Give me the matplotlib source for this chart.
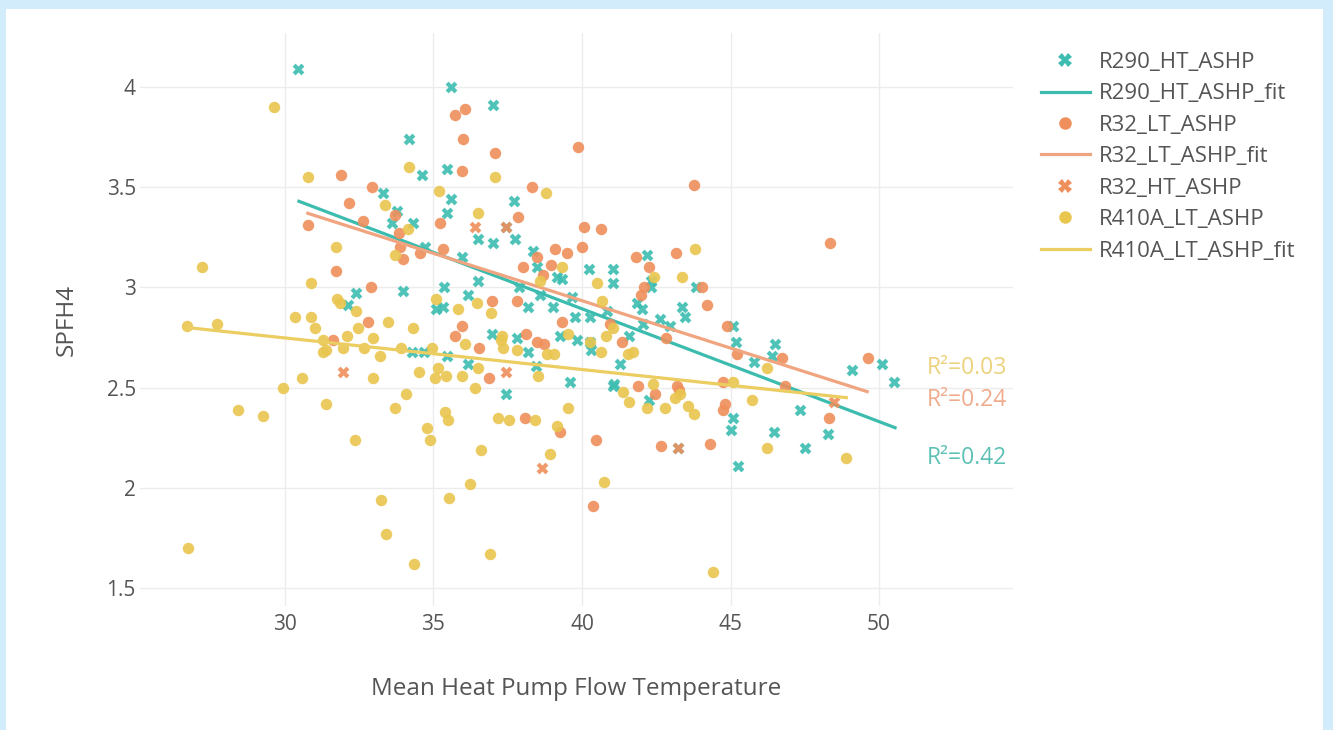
import matplotlib
matplotlib.use("Agg")
import matplotlib.pyplot as plt
from matplotlib.patches import Rectangle
from matplotlib.lines import Line2D

plt.rcParams['font.family'] = ['Open Sans', 'DejaVu Sans']

# (mean flow temperature, SPFH4) per heat pump group
r290_ht_points = [
    (30.44, 4.09), (35.59, 4.00), (37.00, 3.91), (34.18, 3.74), (34.61, 3.56), (35.45, 3.59),
    (35.59, 3.44), (35.45, 3.37), (33.30, 3.47), (33.77, 3.38), (33.60, 3.32), (34.31, 3.32),
    (34.71, 3.20), (35.35, 3.00), (33.97, 2.98), (32.39, 2.97), (32.12, 2.91), (35.08, 2.89),
    (35.32, 2.90), (37.71, 3.43), (36.50, 3.24), (37.00, 3.22), (37.74, 3.24), (35.96, 3.15),
    (38.35, 3.18), (38.48, 3.10), (39.16, 3.05), (39.33, 3.04), (40.24, 3.09), (41.04, 3.09),
    (41.04, 3.02), (42.19, 3.16), (42.32, 3.00), (43.84, 3.00), (36.50, 3.03), (36.16, 2.96),
    (37.88, 3.00), (38.18, 2.90), (38.59, 2.96), (39.02, 2.90), (39.66, 2.95), (41.85, 2.92),
    (43.37, 2.90), (36.97, 2.77), (37.81, 2.75), (38.18, 2.68), (39.26, 2.76), (39.83, 2.74),
    (40.27, 2.73), (40.30, 2.69), (35.45, 2.66), (36.16, 2.62), (38.45, 2.61), (39.76, 2.85),
    (40.27, 2.85), (40.84, 2.88), (39.60, 2.53), (41.04, 2.51), (37.44, 2.47), (42.32, 3.03),
    (42.02, 2.89), (43.47, 2.85), (42.63, 2.84), (42.96, 2.81), (42.05, 2.82), (45.08, 2.81),
    (45.18, 2.73), (45.79, 2.63), (41.58, 2.76), (41.28, 2.62), (41.08, 2.52), (42.26, 2.44),
    (45.08, 2.35), (45.02, 2.29), (43.23, 2.20), (45.25, 2.11), (46.50, 2.72), (46.40, 2.66),
    (49.09, 2.59), (50.10, 2.62), (50.51, 2.53), (47.34, 2.39), (46.46, 2.28), (47.51, 2.20),
    (48.28, 2.27), (34.28, 2.68), (34.68, 2.68), (37.44, 3.30),
]

r32_lt_points = [
    (35.72, 3.86), (36.06, 3.89), (35.99, 3.74), (37.07, 3.67), (35.96, 3.58), (39.87, 3.70),
    (43.77, 3.51), (38.32, 3.50), (37.85, 3.35), (40.07, 3.30), (40.64, 3.29), (35.22, 3.32),
    (35.32, 3.19), (39.09, 3.19), (39.49, 3.17), (40.00, 3.20), (38.48, 3.15), (38.01, 3.10),
    (38.96, 3.11), (38.69, 3.06), (41.82, 3.15), (43.16, 3.17), (42.26, 3.10), (42.09, 3.00),
    (41.99, 2.96), (44.04, 3.00), (44.21, 2.91), (36.97, 2.93), (37.81, 2.93),
    (31.89, 3.56), (32.93, 3.50), (32.16, 3.42), (32.63, 3.33), (30.77, 3.31), (33.84, 3.27),
    (33.87, 3.20), (33.97, 3.14), (34.55, 3.17), (31.72, 3.08), (32.90, 3.00), (33.70, 3.36),
    (35.96, 2.81), (35.72, 2.76), (36.53, 2.70), (36.87, 2.55), (38.11, 2.77), (38.48, 2.73),
    (38.72, 2.72), (39.33, 2.83), (40.94, 2.82), (41.35, 2.73), (42.83, 2.75), (41.89, 2.51),
    (42.46, 2.47), (43.20, 2.51), (43.27, 2.49), (44.75, 2.53), (44.81, 2.42), (44.75, 2.39),
    (44.88, 2.81), (45.22, 2.67), (38.08, 2.35), (39.26, 2.28), (40.47, 2.24), (42.66, 2.21),
    (44.31, 2.22), (40.37, 1.91), (48.35, 3.22), (46.73, 2.65), (46.84, 2.51), (49.63, 2.65),
    (48.32, 2.35), (32.79, 2.83), (31.62, 2.74),
]

r32_ht_points = [
    (36.40, 3.30), (37.44, 3.30), (31.95, 2.58), (37.44, 2.58), (38.65, 2.10), (48.48, 2.43),
    (43.23, 2.20),
]

r410a_lt_points = [
    (29.63, 3.90), (30.77, 3.55), (34.18, 3.60), (35.19, 3.48), (33.37, 3.41), (34.14, 3.29),
    (31.72, 3.20), (33.70, 3.16), (27.21, 3.10), (30.88, 3.02), (31.75, 2.94), (31.85, 2.92),
    (32.39, 2.88), (30.34, 2.85), (30.88, 2.85), (35.08, 2.94), (35.82, 2.89),
    (26.70, 2.81), (27.71, 2.82), (31.01, 2.80), (32.46, 2.80), (33.47, 2.83), (34.31, 2.80),
    (32.09, 2.76), (32.96, 2.75), (31.28, 2.74), (31.28, 2.68), (31.38, 2.69), (31.95, 2.70),
    (32.66, 2.70), (33.20, 2.66), (33.91, 2.70), (34.95, 2.70), (34.51, 2.58), (35.15, 2.60),
    (35.05, 2.55), (35.42, 2.56), (30.57, 2.55), (32.96, 2.55), (29.93, 2.50), (28.42, 2.39),
    (29.26, 2.36), (31.38, 2.42), (33.70, 2.40), (34.07, 2.47), (35.39, 2.38), (35.49, 2.34),
    (34.78, 2.30), (34.88, 2.24), (32.36, 2.24), (33.23, 1.94), (35.52, 1.95), (33.40, 1.77),
    (26.73, 1.70), (34.34, 1.62),
    (36.46, 2.92), (36.94, 2.87), (36.06, 2.72), (37.31, 2.76), (37.27, 2.74), (37.34, 2.70),
    (37.81, 2.69), (38.82, 2.67), (39.06, 2.67), (39.53, 2.77), (40.27, 2.73), (40.64, 2.68),
    (40.81, 2.76), (41.04, 2.80), (41.55, 2.67), (41.72, 2.68), (35.96, 2.56), (36.50, 2.60),
    (38.52, 2.56), (36.40, 2.50), (37.17, 2.35), (37.54, 2.34), (38.42, 2.34), (39.16, 2.31),
    (39.53, 2.40), (36.60, 2.19), (38.92, 2.17), (36.23, 2.02), (40.74, 2.03), (36.90, 1.67),
    (44.41, 1.58), (41.38, 2.48), (41.58, 2.43), (42.19, 2.40), (42.80, 2.40), (42.39, 2.52),
    (43.13, 2.45), (43.30, 2.47), (43.57, 2.41), (43.77, 2.37), (45.08, 2.53),
    (37.07, 3.55), (38.79, 3.47), (36.50, 3.37), (39.33, 3.10), (38.59, 3.03), (40.51, 3.02),
    (40.67, 2.93), (42.43, 3.05), (43.37, 3.05), (43.81, 3.19),
    (45.72, 2.44), (46.23, 2.60), (46.23, 2.20), (48.89, 2.15),
]

# linear fit lines: end points (x) and fitted values (y)
r290_fit_x = [30.47, 50.54]
r290_fit_y = [3.43, 2.30]
r32_fit_x = [30.77, 49.60]
r32_fit_y = [3.37, 2.48]
r410a_fit_x = [26.70, 48.90]
r410a_fit_y = [2.80, 2.45]

r2_labels = ["R²=0.03", "R²=0.24", "R²=0.42"]
r2_y = [2.60, 2.44, 2.15]
r2_x = 51.62

x_ticks = [30, 35, 40, 45, 50]
y_ticks = [1.5, 2, 2.5, 3, 3.5, 4]

TEAL = '#3dbdb1'
ORANGE = '#ef8f5c'
YELLOW = '#e9c64e'
TEAL_FIT = '#3cbcae'
ORANGE_FIT = '#f0a47f'
YELLOW_FIT = '#ebcd62'
TEXT = '#555555'

W, H = 1333, 730
fig = plt.figure(figsize=(W / 100, H / 100), dpi=100)
fig.patch.set_facecolor('#d3ecfb')
fig.patches.append(Rectangle((6 / W, 0), (1323 - 6) / W, 1 - 9 / H,
                             transform=fig.transFigure, facecolor='white',
                             edgecolor='none', zorder=-10))

ax = fig.add_axes([140 / W, 1 - 606 / H, (1013 - 140) / W, (606 - 33) / H])
ax.set_facecolor('white')
ax.set_zorder(1)


def xs(points):
    return [p[0] for p in points]


def ys(points):
    return [p[1] for p in points]


ax.scatter(xs(r290_ht_points), ys(r290_ht_points), marker='X', s=72, color=TEAL,
           alpha=0.9, linewidths=0, zorder=3)
ax.plot(r290_fit_x, r290_fit_y, color=TEAL_FIT, lw=2.3, zorder=4)
ax.scatter(xs(r32_lt_points), ys(r32_lt_points), marker='o', s=68, color=ORANGE,
           alpha=0.9, linewidths=0, zorder=5)
ax.plot(r32_fit_x, r32_fit_y, color=ORANGE_FIT, lw=2.3, zorder=6)
ax.scatter(xs(r32_ht_points), ys(r32_ht_points), marker='X', s=72, color=ORANGE,
           alpha=0.9, linewidths=0, zorder=7)
ax.scatter(xs(r410a_lt_points), ys(r410a_lt_points), marker='o', s=68, color=YELLOW,
           alpha=0.9, linewidths=0, zorder=8)
ax.plot(r410a_fit_x, r410a_fit_y, color=YELLOW_FIT, lw=2.3, zorder=9)

for label, yv, col in zip(r2_labels, r2_y, ['#ecd27c', '#f0ab8c', '#5dc1b6']):
    ax.text(r2_x, yv, label, color=col, fontsize=16.5, ha='left', va='center', zorder=10)

ax.set_xlim(25.12, 54.51)
ax.set_ylim(1.41, 4.27)
ax.set_xticks(x_ticks)
ax.set_yticks(y_ticks)
ax.set_yticklabels([f"{v:g}" for v in y_ticks])
ax.grid(True, color='#ececec', lw=1.0, zorder=0)
ax.set_axisbelow(True)
for s in ax.spines.values():
    s.set_visible(False)
ax.tick_params(axis='x', length=0, labelsize=15, colors=TEXT, pad=6)
ax.tick_params(axis='y', length=0, labelsize=15, colors=TEXT, pad=3)

ax.set_xlabel('Mean Heat Pump Flow Temperature', fontsize=17.5, color=TEXT, labelpad=30)
ax.set_ylabel('SPFH4', fontsize=17.5, color=TEXT, labelpad=20)

handles = [
    Line2D([], [], marker='X', ls='none', color=TEAL, markersize=9.5, markeredgewidth=0),
    Line2D([], [], color=TEAL_FIT, lw=2.3),
    Line2D([], [], marker='o', ls='none', color=ORANGE, markersize=9, markeredgewidth=0),
    Line2D([], [], color=ORANGE_FIT, lw=2.3),
    Line2D([], [], marker='X', ls='none', color=ORANGE, markersize=9.5, markeredgewidth=0),
    Line2D([], [], marker='o', ls='none', color=YELLOW, markersize=9, markeredgewidth=0),
    Line2D([], [], color=YELLOW_FIT, lw=2.3),
]
labels = ['R290_HT_ASHP', 'R290_HT_ASHP_fit', 'R32_LT_ASHP', 'R32_LT_ASHP_fit',
          'R32_HT_ASHP', 'R410A_LT_ASHP', 'R410A_LT_ASHP_fit']
leg = ax.legend(handles, labels, loc='upper left',
                bbox_to_anchor=(1032 / W, 1 - 43 / H), bbox_transform=fig.transFigure,
                frameon=False, fontsize=16, handlelength=2.2, handletextpad=0.4,
                labelspacing=0.47, borderaxespad=0)
for t in leg.get_texts():
    t.set_color(TEXT)

fig.savefig('out.png', dpi=100, facecolor=fig.get_facecolor())
